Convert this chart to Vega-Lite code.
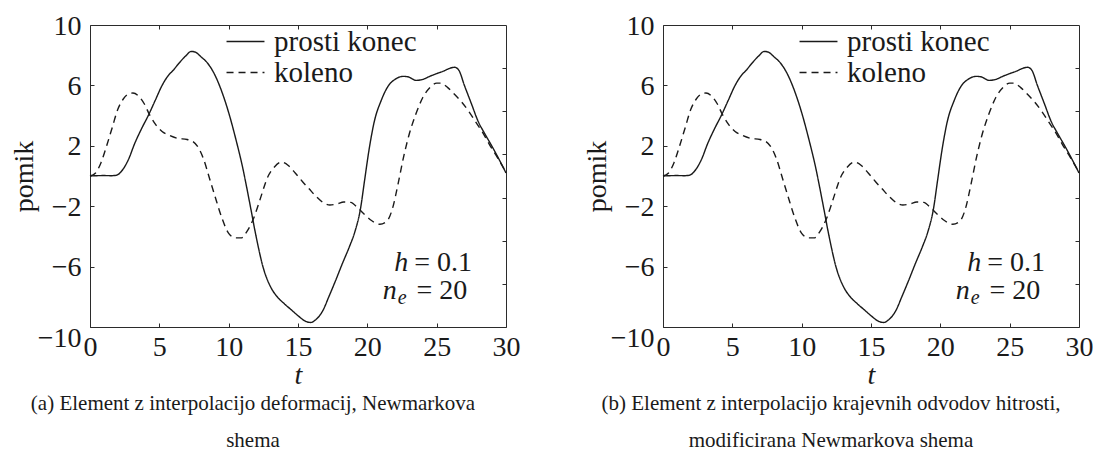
{
  "$schema": "https://vega.github.io/schema/vega-lite/v6.json",
  "background": "white",
  "padding": {"left": 10, "top": 12, "right": 0, "bottom": 0},
  "spacing": 63,
  "config": {
    "font": "Liberation Serif",
    "view": {"stroke": null},
    "axis": {
      "grid": false,
      "domainColor": "#2b2b2b",
      "tickColor": "#2b2b2b",
      "domainWidth": 1,
      "tickWidth": 1,
      "tickSize": -4,
      "labelFont": "Liberation Serif",
      "labelFontSize": 28,
      "labelColor": "#1a1a1a",
      "titleFont": "Liberation Serif",
      "titleFontSize": 28,
      "titleColor": "#1a1a1a",
      "titleFontWeight": "normal",
      "labelOverlap": false,
      "labelFlush": false,
      "labelBound": false
    },
    "legend": {
      "symbolType": "M-2,0H2",
      "symbolSize": 360,
      "symbolStrokeWidth": 1.4,
      "symbolStrokeColor": "#1a1a1a",
      "symbolFillColor": "transparent",
      "labelFont": "Liberation Serif",
      "labelFontSize": 29,
      "labelColor": "#1a1a1a",
      "labelOffset": 14,
      "labelLimit": 400,
      "rowPadding": 1,
      "padding": 0
    },
    "title": {"font": "Liberation Serif", "fontSize": 21, "fontWeight": "normal", "color": "#1a1a1a"}
  },
  "datasets": {
    "curves": [
      {"t": 0, "v": 0, "series": "prosti konec"},
      {"t": 0.5, "v": 0.02, "series": "prosti konec"},
      {"t": 1.0, "v": 0.03, "series": "prosti konec"},
      {"t": 1.5, "v": 0.02, "series": "prosti konec"},
      {"t": 1.9, "v": 0.05, "series": "prosti konec"},
      {"t": 2.3, "v": 0.35, "series": "prosti konec"},
      {"t": 2.8, "v": 1.15, "series": "prosti konec"},
      {"t": 3.2, "v": 2.1, "series": "prosti konec"},
      {"t": 3.7, "v": 3.1, "series": "prosti konec"},
      {"t": 4.2, "v": 4.0, "series": "prosti konec"},
      {"t": 4.7, "v": 5.0, "series": "prosti konec"},
      {"t": 5.2, "v": 6.0, "series": "prosti konec"},
      {"t": 5.6, "v": 6.6, "series": "prosti konec"},
      {"t": 6.0, "v": 7.0, "series": "prosti konec"},
      {"t": 6.4, "v": 7.45, "series": "prosti konec"},
      {"t": 6.9, "v": 7.95, "series": "prosti konec"},
      {"t": 7.3, "v": 8.25, "series": "prosti konec"},
      {"t": 7.6, "v": 8.2, "series": "prosti konec"},
      {"t": 8.0, "v": 7.9, "series": "prosti konec"},
      {"t": 8.5, "v": 7.45, "series": "prosti konec"},
      {"t": 9.0, "v": 6.7, "series": "prosti konec"},
      {"t": 9.5, "v": 5.6, "series": "prosti konec"},
      {"t": 10.0, "v": 4.2, "series": "prosti konec"},
      {"t": 10.5, "v": 2.5, "series": "prosti konec"},
      {"t": 11.0, "v": 0.6, "series": "prosti konec"},
      {"t": 11.5, "v": -1.7, "series": "prosti konec"},
      {"t": 12.0, "v": -4.1, "series": "prosti konec"},
      {"t": 12.5, "v": -6.1, "series": "prosti konec"},
      {"t": 13.0, "v": -7.3, "series": "prosti konec"},
      {"t": 13.5, "v": -8.0, "series": "prosti konec"},
      {"t": 14.0, "v": -8.45, "series": "prosti konec"},
      {"t": 14.5, "v": -8.85, "series": "prosti konec"},
      {"t": 15.0, "v": -9.25, "series": "prosti konec"},
      {"t": 15.5, "v": -9.6, "series": "prosti konec"},
      {"t": 15.9, "v": -9.7, "series": "prosti konec"},
      {"t": 16.3, "v": -9.5, "series": "prosti konec"},
      {"t": 16.8, "v": -8.9, "series": "prosti konec"},
      {"t": 17.2, "v": -8.05, "series": "prosti konec"},
      {"t": 17.7, "v": -6.95, "series": "prosti konec"},
      {"t": 18.2, "v": -5.8, "series": "prosti konec"},
      {"t": 18.7, "v": -4.7, "series": "prosti konec"},
      {"t": 19.1, "v": -3.7, "series": "prosti konec"},
      {"t": 19.5, "v": -2.2, "series": "prosti konec"},
      {"t": 19.8, "v": -0.3, "series": "prosti konec"},
      {"t": 20.1, "v": 1.6, "series": "prosti konec"},
      {"t": 20.5, "v": 3.6, "series": "prosti konec"},
      {"t": 21.0, "v": 5.0, "series": "prosti konec"},
      {"t": 21.5, "v": 5.95, "series": "prosti konec"},
      {"t": 22.0, "v": 6.4, "series": "prosti konec"},
      {"t": 22.6, "v": 6.6, "series": "prosti konec"},
      {"t": 23.0, "v": 6.55, "series": "prosti konec"},
      {"t": 23.5, "v": 6.33, "series": "prosti konec"},
      {"t": 24.0, "v": 6.4, "series": "prosti konec"},
      {"t": 24.5, "v": 6.6, "series": "prosti konec"},
      {"t": 25.0, "v": 6.78, "series": "prosti konec"},
      {"t": 25.5, "v": 6.95, "series": "prosti konec"},
      {"t": 26.0, "v": 7.15, "series": "prosti konec"},
      {"t": 26.3, "v": 7.2, "series": "prosti konec"},
      {"t": 26.6, "v": 7.0, "series": "prosti konec"},
      {"t": 27.0, "v": 6.0, "series": "prosti konec"},
      {"t": 27.5, "v": 4.8, "series": "prosti konec"},
      {"t": 28.0, "v": 3.6, "series": "prosti konec"},
      {"t": 28.5, "v": 2.75, "series": "prosti konec"},
      {"t": 29.0, "v": 1.95, "series": "prosti konec"},
      {"t": 29.5, "v": 1.1, "series": "prosti konec"},
      {"t": 30.0, "v": 0.2, "series": "prosti konec"},
      {"t": 0, "v": 0, "series": "koleno"},
      {"t": 0.4, "v": 0.2, "series": "koleno"},
      {"t": 0.8, "v": 0.9, "series": "koleno"},
      {"t": 1.2, "v": 2.0, "series": "koleno"},
      {"t": 1.6, "v": 3.2, "series": "koleno"},
      {"t": 2.0, "v": 4.4, "series": "koleno"},
      {"t": 2.4, "v": 5.1, "series": "koleno"},
      {"t": 2.8, "v": 5.45, "series": "koleno"},
      {"t": 3.1, "v": 5.5, "series": "koleno"},
      {"t": 3.5, "v": 5.3, "series": "koleno"},
      {"t": 3.9, "v": 4.8, "series": "koleno"},
      {"t": 4.3, "v": 4.05, "series": "koleno"},
      {"t": 4.7, "v": 3.45, "series": "koleno"},
      {"t": 5.2, "v": 2.95, "series": "koleno"},
      {"t": 5.7, "v": 2.7, "series": "koleno"},
      {"t": 6.3, "v": 2.5, "series": "koleno"},
      {"t": 7.0, "v": 2.42, "series": "koleno"},
      {"t": 7.4, "v": 2.3, "series": "koleno"},
      {"t": 7.8, "v": 1.9, "series": "koleno"},
      {"t": 8.2, "v": 1.1, "series": "koleno"},
      {"t": 8.6, "v": -0.1, "series": "koleno"},
      {"t": 9.0, "v": -1.3, "series": "koleno"},
      {"t": 9.5, "v": -2.75, "series": "koleno"},
      {"t": 10.0, "v": -3.8, "series": "koleno"},
      {"t": 10.5, "v": -4.1, "series": "koleno"},
      {"t": 10.9, "v": -4.1, "series": "koleno"},
      {"t": 11.3, "v": -3.7, "series": "koleno"},
      {"t": 11.8, "v": -2.8, "series": "koleno"},
      {"t": 12.3, "v": -1.45, "series": "koleno"},
      {"t": 12.8, "v": -0.1, "series": "koleno"},
      {"t": 13.3, "v": 0.6, "series": "koleno"},
      {"t": 13.8, "v": 0.92, "series": "koleno"},
      {"t": 14.3, "v": 0.7, "series": "koleno"},
      {"t": 14.8, "v": 0.2, "series": "koleno"},
      {"t": 15.3, "v": -0.35, "series": "koleno"},
      {"t": 15.8, "v": -0.85, "series": "koleno"},
      {"t": 16.3, "v": -1.35, "series": "koleno"},
      {"t": 16.8, "v": -1.75, "series": "koleno"},
      {"t": 17.3, "v": -1.92, "series": "koleno"},
      {"t": 17.8, "v": -1.85, "series": "koleno"},
      {"t": 18.3, "v": -1.72, "series": "koleno"},
      {"t": 18.8, "v": -1.75, "series": "koleno"},
      {"t": 19.3, "v": -2.1, "series": "koleno"},
      {"t": 19.8, "v": -2.55, "series": "koleno"},
      {"t": 20.3, "v": -2.95, "series": "koleno"},
      {"t": 20.9, "v": -3.2, "series": "koleno"},
      {"t": 21.4, "v": -3.0, "series": "koleno"},
      {"t": 21.8, "v": -2.2, "series": "koleno"},
      {"t": 22.2, "v": -0.6, "series": "koleno"},
      {"t": 22.6, "v": 1.2, "series": "koleno"},
      {"t": 23.0, "v": 2.7, "series": "koleno"},
      {"t": 23.5, "v": 4.1, "series": "koleno"},
      {"t": 24.0, "v": 5.2, "series": "koleno"},
      {"t": 24.5, "v": 5.85, "series": "koleno"},
      {"t": 25.0, "v": 6.15, "series": "koleno"},
      {"t": 25.3, "v": 6.15, "series": "koleno"},
      {"t": 25.8, "v": 5.85, "series": "koleno"},
      {"t": 26.3, "v": 5.4, "series": "koleno"},
      {"t": 26.8, "v": 4.9, "series": "koleno"},
      {"t": 27.3, "v": 4.3, "series": "koleno"},
      {"t": 27.8, "v": 3.6, "series": "koleno"},
      {"t": 28.3, "v": 2.9, "series": "koleno"},
      {"t": 28.8, "v": 2.1, "series": "koleno"},
      {"t": 29.3, "v": 1.35, "series": "koleno"},
      {"t": 30.0, "v": 0.25, "series": "koleno"}
    ],
    "notes": [
      {"t": 22.95, "v": -6.3, "label": "h", "kind": "italic-right"},
      {"t": 27.55, "v": -6.3, "label": "= 0.1", "kind": "plain-right"},
      {"t": 21.12, "v": -8.15, "label": "n", "kind": "italic-left"},
      {"t": 22.2, "v": -8.5, "label": "e", "kind": "sub"},
      {"t": 27.2, "v": -8.15, "label": "= 20", "kind": "plain-right"}
    ]
  },
  "hconcat": [
    {
      "width": 416,
      "height": 302,
      "title": {
        "text": ["(a) Element z interpolacijo deformacij, Newmarkova", "shema"],
        "orient": "bottom",
        "anchor": "middle",
        "dx": -45,
        "offset": 4,
        "lineHeight": 37
      },
      "layer": [
        {
          "data": {"name": "curves"},
          "mark": {"type": "line", "interpolate": "monotone", "strokeWidth": 1.4, "color": "#1a1a1a"},
          "encoding": {
            "x": {"field": "t", "type": "quantitative", "scale": {"domain": [0, 30], "nice": false, "zero": false},
                  "axis": {"orient": "bottom", "values": [0, 5, 10, 15, 20, 25, 30], "title": "t", "titleFontStyle": "italic", "labelPadding": 10, "titlePadding": 0}},
            "y": {"field": "v", "type": "quantitative", "scale": {"domain": [-10, 10], "nice": false, "zero": false},
                  "axis": {"orient": "left", "values": [-10, -6, -2, 2, 6, 10], "title": "pomik", "labelPadding": 13, "titlePadding": -1,
                           "labelOffset": {"condition": {"test": "datum.value === -10", "value": 11}, "value": 1}}},
            "strokeDash": {"field": "series", "type": "nominal",
                           "scale": {"domain": ["prosti konec", "koleno"], "range": [[1, 0], [7, 5]]},
                           "legend": {"orient": "none", "legendX": 141, "legendY": 2, "title": null}}
          }
        },
        {
          "data": {"name": "curves"},
          "mark": {"type": "point", "opacity": 0},
          "encoding": {
            "x": {"field": "t", "type": "quantitative", "axis": {"orient": "top", "values": [5, 10, 15, 20, 25], "labels": false, "title": null}},
            "y": {"field": "v", "type": "quantitative", "axis": {"orient": "right", "values": [-7.142857, -4.285714, -1.428571, 1.428571, 4.285714, 7.142857], "labels": false, "title": null}}
          }
        },
        {
          "data": {"name": "notes"},
          "transform": [{"filter": "datum.kind === 'italic-right'"}],
          "mark": {"type": "text", "align": "right", "baseline": "alphabetic", "fontStyle": "italic", "fontSize": 28, "font": "Liberation Serif", "color": "#1a1a1a"},
          "encoding": {"x": {"field": "t", "type": "quantitative", "axis": null}, "y": {"field": "v", "type": "quantitative", "axis": null}, "text": {"field": "label"}}
        },
        {
          "data": {"name": "notes"},
          "transform": [{"filter": "datum.kind === 'plain-right'"}],
          "mark": {"type": "text", "align": "right", "baseline": "alphabetic", "fontSize": 28, "font": "Liberation Serif", "color": "#1a1a1a"},
          "encoding": {"x": {"field": "t", "type": "quantitative", "axis": null}, "y": {"field": "v", "type": "quantitative", "axis": null}, "text": {"field": "label"}}
        },
        {
          "data": {"name": "notes"},
          "transform": [{"filter": "datum.kind === 'italic-left'"}],
          "mark": {"type": "text", "align": "left", "baseline": "alphabetic", "fontStyle": "italic", "fontSize": 28, "font": "Liberation Serif", "color": "#1a1a1a"},
          "encoding": {"x": {"field": "t", "type": "quantitative", "axis": null}, "y": {"field": "v", "type": "quantitative", "axis": null}, "text": {"field": "label"}}
        },
        {
          "data": {"name": "notes"},
          "transform": [{"filter": "datum.kind === 'sub'"}],
          "mark": {"type": "text", "align": "left", "baseline": "alphabetic", "fontStyle": "italic", "fontSize": 20, "font": "Liberation Serif", "color": "#1a1a1a"},
          "encoding": {"x": {"field": "t", "type": "quantitative", "axis": null}, "y": {"field": "v", "type": "quantitative", "axis": null}, "text": {"field": "label"}}
        }
      ],
      "resolve": {"axis": {"x": "independent", "y": "independent"}}
    },
    {
      "width": 416,
      "height": 302,
      "title": {
        "text": ["(b) Element z interpolacijo krajevnih odvodov hitrosti,", "modificirana Newmarkova shema"],
        "orient": "bottom",
        "anchor": "middle",
        "dx": -40,
        "offset": 4,
        "lineHeight": 37
      },
      "layer": [
        {
          "data": {"name": "curves"},
          "mark": {"type": "line", "interpolate": "monotone", "strokeWidth": 1.4, "color": "#1a1a1a"},
          "encoding": {
            "x": {"field": "t", "type": "quantitative", "scale": {"domain": [0, 30], "nice": false, "zero": false},
                  "axis": {"orient": "bottom", "values": [0, 5, 10, 15, 20, 25, 30], "title": "t", "titleFontStyle": "italic", "labelPadding": 10, "titlePadding": 0}},
            "y": {"field": "v", "type": "quantitative", "scale": {"domain": [-10, 10], "nice": false, "zero": false},
                  "axis": {"orient": "left", "values": [-10, -6, -2, 2, 6, 10], "title": "pomik", "labelPadding": 13, "titlePadding": -1,
                           "labelOffset": {"condition": {"test": "datum.value === -10", "value": 11}, "value": 1}}},
            "strokeDash": {"field": "series", "type": "nominal",
                           "scale": {"domain": ["prosti konec", "koleno"], "range": [[1, 0], [7, 5]]},
                           "legend": {"orient": "none", "legendX": 141, "legendY": 2, "title": null}}
          }
        },
        {
          "data": {"name": "curves"},
          "mark": {"type": "point", "opacity": 0},
          "encoding": {
            "x": {"field": "t", "type": "quantitative", "axis": {"orient": "top", "values": [5, 10, 15, 20, 25], "labels": false, "title": null}},
            "y": {"field": "v", "type": "quantitative", "axis": {"orient": "right", "values": [-7.142857, -4.285714, -1.428571, 1.428571, 4.285714, 7.142857], "labels": false, "title": null}}
          }
        },
        {
          "data": {"name": "notes"},
          "transform": [{"filter": "datum.kind === 'italic-right'"}],
          "mark": {"type": "text", "align": "right", "baseline": "alphabetic", "fontStyle": "italic", "fontSize": 28, "font": "Liberation Serif", "color": "#1a1a1a"},
          "encoding": {"x": {"field": "t", "type": "quantitative", "axis": null}, "y": {"field": "v", "type": "quantitative", "axis": null}, "text": {"field": "label"}}
        },
        {
          "data": {"name": "notes"},
          "transform": [{"filter": "datum.kind === 'plain-right'"}],
          "mark": {"type": "text", "align": "right", "baseline": "alphabetic", "fontSize": 28, "font": "Liberation Serif", "color": "#1a1a1a"},
          "encoding": {"x": {"field": "t", "type": "quantitative", "axis": null}, "y": {"field": "v", "type": "quantitative", "axis": null}, "text": {"field": "label"}}
        },
        {
          "data": {"name": "notes"},
          "transform": [{"filter": "datum.kind === 'italic-left'"}],
          "mark": {"type": "text", "align": "left", "baseline": "alphabetic", "fontStyle": "italic", "fontSize": 28, "font": "Liberation Serif", "color": "#1a1a1a"},
          "encoding": {"x": {"field": "t", "type": "quantitative", "axis": null}, "y": {"field": "v", "type": "quantitative", "axis": null}, "text": {"field": "label"}}
        },
        {
          "data": {"name": "notes"},
          "transform": [{"filter": "datum.kind === 'sub'"}],
          "mark": {"type": "text", "align": "left", "baseline": "alphabetic", "fontStyle": "italic", "fontSize": 20, "font": "Liberation Serif", "color": "#1a1a1a"},
          "encoding": {"x": {"field": "t", "type": "quantitative", "axis": null}, "y": {"field": "v", "type": "quantitative", "axis": null}, "text": {"field": "label"}}
        }
      ],
      "resolve": {"axis": {"x": "independent", "y": "independent"}}
    }
  ],
  "resolve": {"scale": {"strokeDash": "independent"}, "legend": {"strokeDash": "independent"}}
}
